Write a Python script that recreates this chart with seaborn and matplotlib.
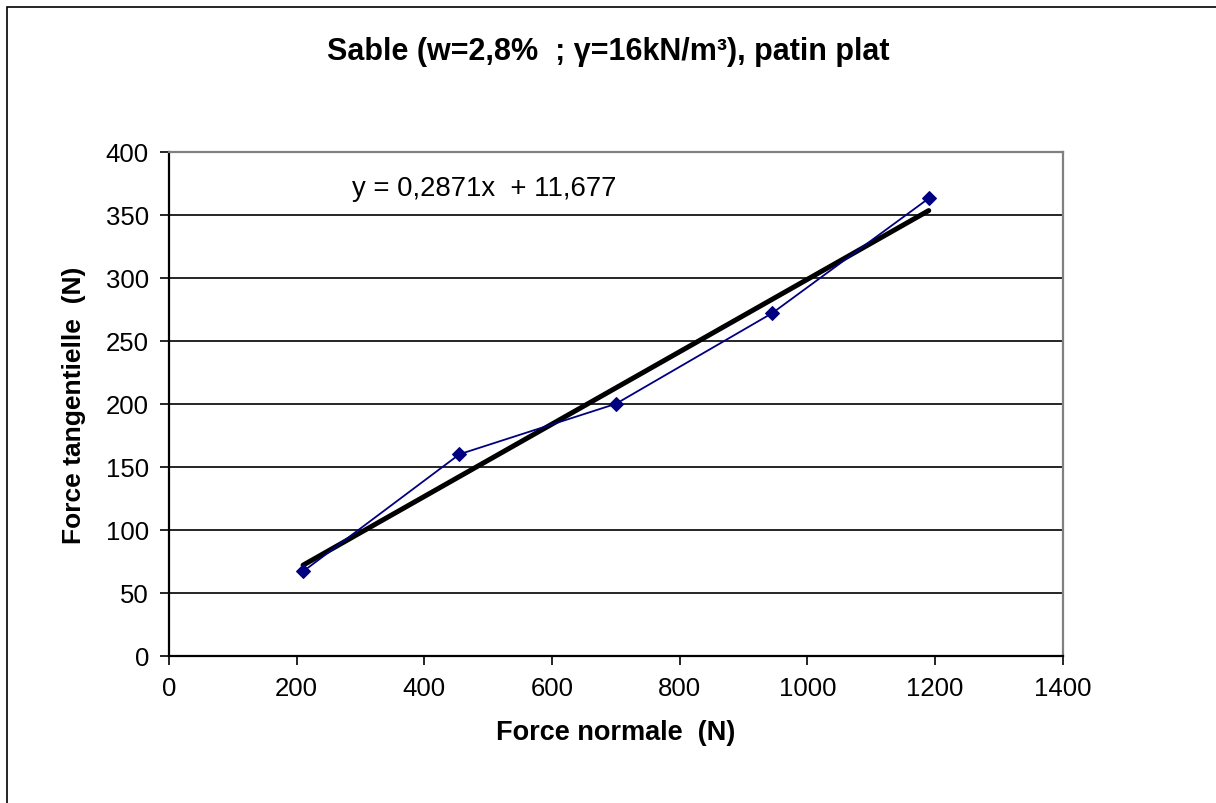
import numpy as np
import pandas as pd
import seaborn as sns
import matplotlib.pyplot as plt
from matplotlib.patches import Rectangle

# data
force_normale = [210, 455, 700, 945, 1190]
force_tangentielle = [67, 160, 200, 272, 363]
# trend line shown on the chart
pente = 0.2871
ordonnee = 11.677

sns.set_style("white")
plt.rcParams['font.family'] = ['Liberation Sans', 'DejaVu Sans']
plt.rcParams['text.color'] = 'black'
plt.rcParams['axes.labelcolor'] = 'black'
plt.rcParams['xtick.color'] = 'black'
plt.rcParams['ytick.color'] = 'black'

df = pd.DataFrame({"x": force_normale, "y": force_tangentielle})
xt = np.array([min(force_normale), max(force_normale)])
trend = pd.DataFrame({"x": xt, "y": pente * xt + ordonnee})

fig = plt.figure(figsize=(12.16, 8.04), dpi=100)
ax = fig.add_axes([0.139, 0.183, 0.735, 0.627])

# horizontal grid lines
for yv in range(50, 400, 50):
    ax.axhline(yv, color="black", lw=1.2, zorder=0)

sns.lineplot(data=df, x="x", y="y", ax=ax, color="#000080", lw=1.3,
             marker="D", markersize=7, markeredgecolor="#000080", zorder=3)
sns.lineplot(data=trend, x="x", y="y", ax=ax, color="black", lw=3.6, zorder=2)

ax.set_xlim(0, 1400)
ax.set_ylim(0, 400)
ax.set_xticks(range(0, 1401, 200))
ax.set_yticks(range(0, 401, 50))
ax.tick_params(axis="both", direction="out", length=6.5, width=1.2,
               color="black", labelcolor="black", labelsize=18.5, pad=8,
               left=True, bottom=True)

for side in ["left", "bottom"]:
    ax.spines[side].set_color("black")
    ax.spines[side].set_linewidth(1.6)
for side in ["top", "right"]:
    ax.spines[side].set_color("#808080")
    ax.spines[side].set_linewidth(1.6)

ax.set_xlabel("Force normale  (N)", fontsize=19.5, fontweight="bold", labelpad=14)
ax.set_ylabel("Force tangentielle  (N)", fontsize=19, fontweight="bold", labelpad=14)

ax.text(287, 371, "y = 0,2871x  + 11,677", fontsize=19.8, va="center", ha="left")

fig.text(0.5, 0.935, "Sable (w=2,8%  ; γ=16kN/m³), patin plat",
         fontsize=22, fontweight="bold", ha="center", va="center")

# chart area border
fig.patches.append(Rectangle((7 / 1216, -0.05), 1.2, 1 - 8 / 804 + 0.05,
                             transform=fig.transFigure, fill=False,
                             edgecolor="black", lw=1.2))

fig.savefig("out.png", dpi=100)
plt.close(fig)
